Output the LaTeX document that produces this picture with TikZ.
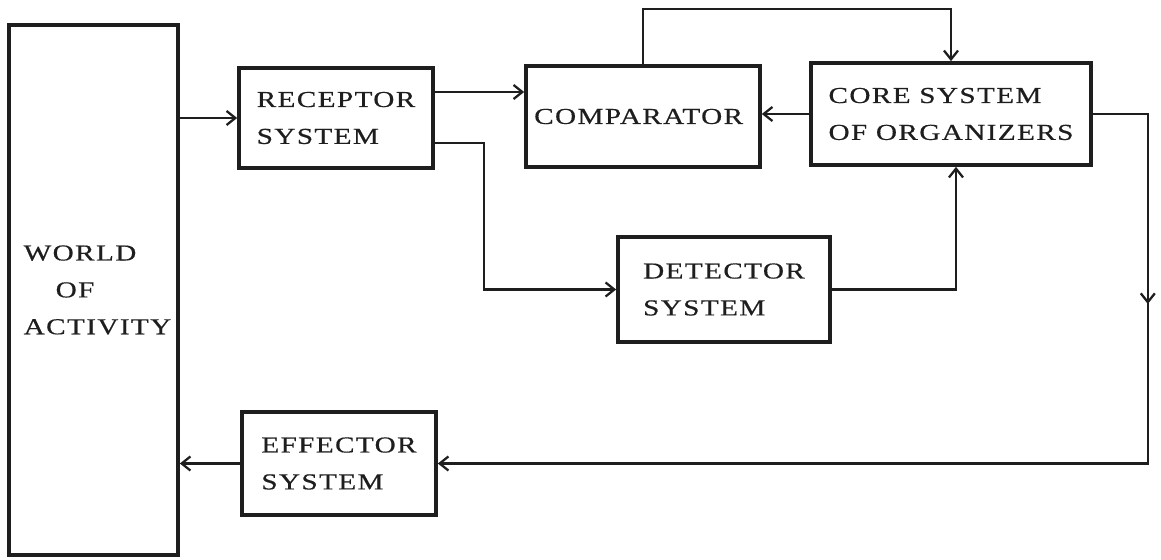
\documentclass[tikz,border=0pt]{standalone}
\usepackage{fontspec}
\setmainfont{Liberation Serif}[FakeStretch=1.28, LetterSpace=6, FakeBold=0.5]
\usepackage{tikz}
\usetikzlibrary{arrows.meta, decorations.markings}
\definecolor{ink}{RGB}{30, 30, 30}

\begin{document}
\begin{tikzpicture}[x=0.02cm, y=-0.02cm,
   block/.style={rectangle, draw=ink, line width=2.1, text=ink, align=left,
                 inner sep=0, font=\fontsize{13}{21}\selectfont},
   conn/.style={draw=ink, line width=1.3, -{Straight Barb[length=5pt, width=8pt]}}
  ]

  \useasboundingbox (0, 0) rectangle (1161, 560);

  \node (World) at (93.5, 290) [block, minimum width=3.38cm, minimum height=10.6cm]
        { \hspace*{0.16cm}WORLD \\ \hspace*{0.8cm}OF \\ \hspace*{0.16cm}ACTIVITY };

  \node (Rec) at (336, 118) [block, minimum width=3.88cm, minimum height=2cm]
        { RECEPTOR \\ SYSTEM };
  \node (Comp) at (643, 116.5) [block, minimum width=4.68cm, minimum height=2.02cm]
        { COMPARATOR };
  \node (Core) at (951, 114) [block, minimum width=5.6cm, minimum height=2.04cm]
        { CORE SYSTEM \\ OF ORGANIZERS };

  \node (Det) at (724, 289.5) [block, minimum width=4.24cm, minimum height=2.1cm]
        { DETECTOR \\ SYSTEM };

  \node (Eff) at (339, 463.5) [block, minimum width=3.88cm, minimum height=2.06cm]
        { EFFECTOR \\ SYSTEM };


  \draw[conn] (Rec.west -| World.east) -- (Rec.west);
  \draw[conn] ([yshift=0.52cm]Rec.east) -- ([yshift=0.52cm]Rec.east -| Comp.west);
  \draw[conn] ([yshift=-0.5cm]Rec.east) -- ++(0.98cm, 0) |- (Det.west);

  \draw[conn] (Comp.north) -- ++(0, 1.1cm) -| (Core.north);
  \draw[conn] (Det.east) -| ([xshift=0.1cm]Core.south);

  \foreach \B/\E in {Core/Comp, Eff/World} {
    \draw[conn] (\B.west) -- (\B.west -| \E.east);
  }

  \draw[conn, postaction={decorate}, decoration={markings,
        mark=at position 4.9cm with {\arrow{Straight Barb[length=5pt, width=8pt]}}}]
        (Core.east) -- ++(1.1cm, 0) |- (Eff.east);

\end{tikzpicture}
\end{document}
